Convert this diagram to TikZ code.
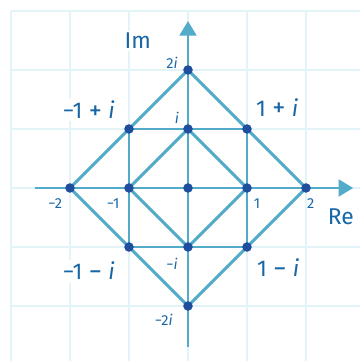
\documentclass[tikz,border=0pt]{standalone}
\usepackage{fontspec}
\setmainfont{Fira Sans}
\usetikzlibrary{arrows.meta}
\definecolor{gridcol}{HTML}{E2F4F8}
\definecolor{linecol}{HTML}{52ABC9}
\definecolor{dotcol}{HTML}{1F4F9C}
\definecolor{txtcol}{HTML}{1766A6}
\newcommand{\bigop}[1]{\hspace{0.28em}\raisebox{-0.03em}{\scalebox{1.15}{#1}}\hspace{0.28em}}

\begin{document}
\begin{tikzpicture}[
  gridline/.style={gridcol, line width=1.3pt},
  edge/.style={linecol, line width=1.4pt, line join=round},
  axis/.style={linecol, line width=1.4pt, -{Triangle[length=7pt,width=8pt]}},
  big/.style={txtcol, font=\fontsize{11}{13}\selectfont, fill=white, inner sep=1pt},
  small/.style={txtcol, font=\fontsize{7}{8}\selectfont, inner sep=1pt}]
  \useasboundingbox (-3.186,-2.932) rectangle (2.915,3.186);
  % Grid
  \foreach \x in {-3,...,2} \draw[gridline] (\x,-2.932) -- (\x,3);
  \foreach \y in {-2,...,3} \draw[gridline] (-3,\y) -- (2.915,\y);
  % Points
  \coordinate (o) at (0,0);
  \coordinate (r1) at (1,0);  \coordinate (r2) at (2,0);
  \coordinate (l1) at (-1,0); \coordinate (l2) at (-2,0);
  \coordinate (u1) at (0,1);  \coordinate (u2) at (0,2);
  \coordinate (d1) at (0,-1); \coordinate (d2) at (0,-2);
  \coordinate (q1) at (1,1);  \coordinate (q2) at (-1,1);
  \coordinate (q3) at (-1,-1); \coordinate (q4) at (1,-1);
  % Axes
  \coordinate (xs) at (-2.59,0); \coordinate (xe) at (2.80,0);
  \coordinate (ys) at (0,-2.69); \coordinate (ye) at (0,2.83);
  \draw[axis] (xs) -- (xe);
  \draw[axis] (ys) -- (ye);
  % Diamonds and square
  \draw[edge] (r2) -- (u2) -- (l2) -- (d2) -- cycle;
  \draw[edge] (q1) -- (q2) -- (q3) -- (q4) -- cycle;
  \draw[edge] (r1) -- (u1) -- (l1) -- (d1) -- cycle;
  % Dots
  \foreach \p in {o,r1,r2,l1,l2,u1,u2,d1,d2,q1,q2,q3,q4}
    \fill[dotcol] (\p) circle (2.3pt);
  % Labels
  \node[big] (im) at (-0.85,2.49) {Im};
  \node[big] (re) at (2.59,-0.49) {Re};
  \node[big] (lq2) at (-1.68,1.32) {−1\bigop{+}\textit{i}};
  \node[big] (lq1) at (1.51,1.36) {1\bigop{+}\textit{i}};
  \node[big] (lq3) at (-1.68,-1.41) {−1\bigop{−}\textit{i}};
  \node[big] (lq4) at (1.53,-1.36) {1\bigop{−}\textit{i}};
  \node[small] (lu2) at (-0.27,2.12) {2\textit{i}};
  \node[small] (lu1) at (-0.19,1.19) {\textit{i}};
  \node[small] (ld1) at (-0.27,-1.29) {−\textit{i}};
  \node[small] (ld2) at (-0.41,-2.24) {−2\textit{i}};
  \node[small] (ll2) at (-2.25,-0.27) {−2};
  \node[small] (ll1) at (-1.27,-0.27) {−1};
  \node[small] (lr1) at (1.17,-0.27) {1};
  \node[small] (lr2) at (2.08,-0.27) {2};
\end{tikzpicture}
\end{document}
